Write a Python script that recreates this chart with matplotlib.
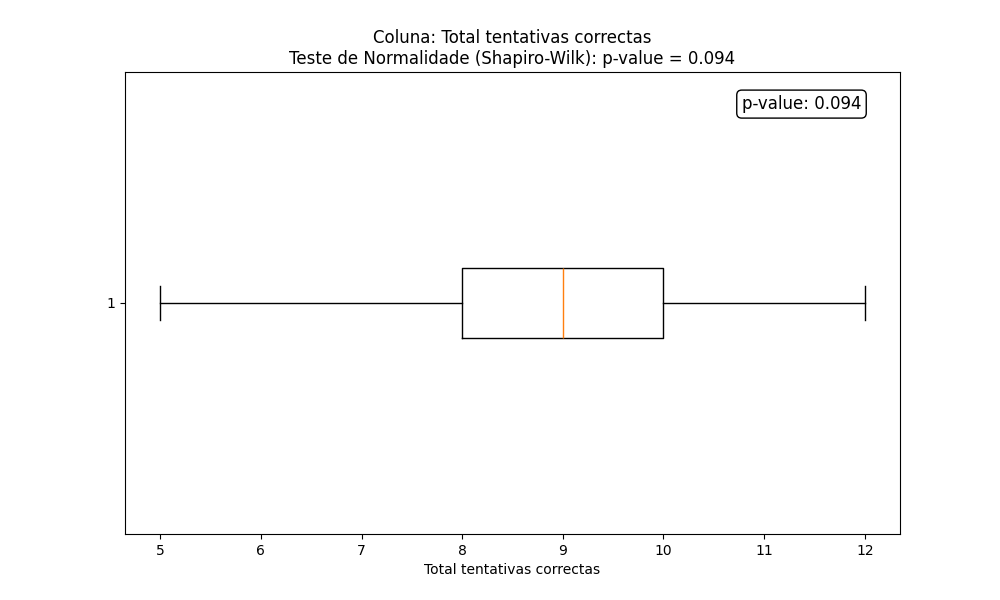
import matplotlib
matplotlib.use('Agg')
import matplotlib.pyplot as plt

column = 'Total tentativas correctas'
p_value = 0.094
# five-number summary
whisker_low = 5
q1 = 8
median = 9
q3 = 10
whisker_high = 12

stats = [{'whislo': whisker_low, 'q1': q1, 'med': median, 'q3': q3,
          'whishi': whisker_high, 'fliers': [], 'label': '1'}]

fig, ax = plt.subplots(figsize=(10, 6), dpi=100)
ax.bxp(stats, vert=False)
ax.set_title(f'Coluna: {column}\nTeste de Normalidade (Shapiro-Wilk): p-value = {p_value:.3f}')
ax.set_xlabel(column)
ax.text(0.95, 0.95, f'p-value: {p_value:.3f}', transform=ax.transAxes,
        fontsize=12, ha='right', va='top',
        bbox=dict(boxstyle='round', facecolor='white', edgecolor='black'))
plt.savefig('out.png')
plt.close()
